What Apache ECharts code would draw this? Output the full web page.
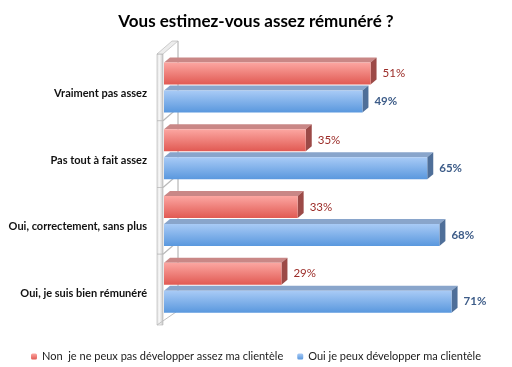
<!DOCTYPE html>
<html><head><meta charset="utf-8">
<script src="https://cdn.jsdelivr.net/npm/echarts@6/dist/echarts.min.js"></script>
<style>html,body{margin:0;padding:0;background:#fff}#c{width:512px;height:367px}</style>
</head><body><div id="c"></div>
<script>
const categories = ['Vraiment pas assez', 'Pas tout à fait assez', 'Oui, correctement, sans plus', 'Oui, je suis bien rémunéré'];
const seriesNames = ['Non  je ne peux pas développer assez ma clientèle', 'Oui je peux développer ma clientèle'];
const nonValues = [51, 35, 33, 29];
const ouiValues = [49, 65, 68, 71];
const titleText = 'Vous estimez-vous assez rémunéré ?';

const FONT = 'Lato';
const barW = 22, gapW = 6, dx = 6, dy = 5;
const faceColors = [
  { top: '#c98786', side: '#9c4a47' },
  { top: '#89a5cb', side: '#4f6f99' }
];
const frontColors = [
  new echarts.graphic.LinearGradient(0, 0, 0, 1, [{offset: 0, color: '#fca7a2'}, {offset: 1, color: '#e15a53'}]),
  new echarts.graphic.LinearGradient(0, 0, 0, 1, [{offset: 0, color: '#a9cbf6'}, {offset: 1, color: '#5a98de'}])
];

function faces(si) {
  return function (params, api) {
    const v = api.value(0), ci = api.value(1);
    const p0 = api.coord([0, ci]), p1 = api.coord([v, ci]);
    const yT = p0[1] + (si === 0 ? -(barW + gapW / 2) : gapW / 2);
    const yB = yT + barW;
    const x0 = p0[0], x1 = p1[0];
    return { type: 'group', children: [
      { type: 'polygon', shape: { points: [[x0, yT], [x0 + dx, yT - dy], [x1 + dx, yT - dy], [x1, yT]] }, style: { fill: faceColors[si].top } },
      { type: 'polygon', shape: { points: [[x1, yT], [x1 + dx, yT - dy], [x1 + dx, yB - dy], [x1, yB]] }, style: { fill: faceColors[si].side } }
    ]};
  };
}

function wall(params, api) {
  const ci = api.value(1);
  const p = api.coord([0, ci]);
  const band = api.size([0, 1])[1];
  const yT = p[1] - band / 2, yB = p[1] + band / 2;
  const last = ci === categories.length - 1;
  const wx = 15, wy = 13;
  const ch = [
    { type: 'line', shape: { x1: p[0] + wx - 1, y1: yT - wy, x2: p[0] + wx - 1, y2: yB - wy }, style: { stroke: '#a8a8a8', lineWidth: 1 } },
    { type: 'rect', shape: { x: p[0] - 7, y: yT, width: 6, height: band + (last ? 4 : 0) },
      style: { fill: new echarts.graphic.LinearGradient(0, 0, 1, 0, [{offset: 0, color: '#e2e2e2'}, {offset: 0.45, color: '#f7f7f7'}, {offset: 1, color: '#c4c4c4'}]), stroke: '#b4b4b4', lineWidth: 0.6 } }
  ];
  if (ci === 0) {
    ch.push({ type: 'polygon', shape: { points: [[p[0] - 7, yT], [p[0] + wx - 7, yT - wy], [p[0] + wx - 1, yT - wy], [p[0] - 1, yT]] },
      style: { fill: '#ececec', stroke: '#b0b0b0', lineWidth: 0.6 } });
  } else {
    ch.push({ type: 'line', shape: { x1: p[0] - 1, y1: yT, x2: p[0] + wx - 1, y2: yT - wy }, style: { stroke: '#b8b8b8', lineWidth: 1.2 } });
  }
  if (last) {
    ch.push({ type: 'line', shape: { x1: p[0] - 7, y1: yB + 4, x2: p[0] + wx - 3, y2: yB + 4 - wy }, style: { stroke: '#c0c0c0', lineWidth: 1 } });
  }
  return { type: 'group', children: ch };
}

const chart = echarts.init(document.getElementById('c'), null, { renderer: 'canvas' });
chart.setOption({
  animation: false,
  backgroundColor: '#fff',
  title: { text: titleText, left: 'center', top: 8, textStyle: { fontFamily: FONT, fontWeight: 'bold', fontSize: 17, color: '#000' } },
  legend: {
    data: seriesNames, top: 346, left: 'center', itemWidth: 6, itemHeight: 6, itemGap: 14,
    textStyle: { fontFamily: FONT, fontSize: 11, color: '#1a1a1a' }
  },
  grid: { left: 164, top: 54, height: 267, right: 24 },
  xAxis: { type: 'value', min: 0, max: 80, show: false },
  yAxis: {
    type: 'category', data: categories, inverse: true,
    axisLine: { show: false }, axisTick: { show: false },
    axisLabel: { margin: 17, formatter: v => '{a|' + v + '}', rich: { a: { fontFamily: FONT, fontWeight: 'bold', fontSize: 11, color: '#111', padding: [12, 0, 0, 0] } } }
  },
  series: [
    { type: 'custom', renderItem: wall, data: categories.map((c, i) => [0, i]), encode: { x: 0, y: 1 }, silent: true, z: 1 },
    { type: 'custom', renderItem: faces(0), data: nonValues.map((v, i) => [v, i]), encode: { x: 0, y: 1 }, silent: true, z: 2 },
    { type: 'custom', renderItem: faces(1), data: ouiValues.map((v, i) => [v, i]), encode: { x: 0, y: 1 }, silent: true, z: 2 },
    { name: seriesNames[0], type: 'bar', data: nonValues, barWidth: barW, barGap: (gapW / barW * 100) + '%', z: 3,
      itemStyle: { color: frontColors[0] },
      label: { show: true, position: 'right', distance: 12, formatter: '{c}%', fontFamily: FONT, fontSize: 11.5, color: '#9b2b27' } },
    { name: seriesNames[1], type: 'bar', data: ouiValues, barWidth: barW, barGap: (gapW / barW * 100) + '%', z: 3,
      itemStyle: { color: frontColors[1] },
      label: { show: true, position: 'right', distance: 12, formatter: '{c}%', fontFamily: FONT, fontWeight: 'bold', fontSize: 11.5, color: '#3d5c88' } }
  ]
});
</script></body></html>
